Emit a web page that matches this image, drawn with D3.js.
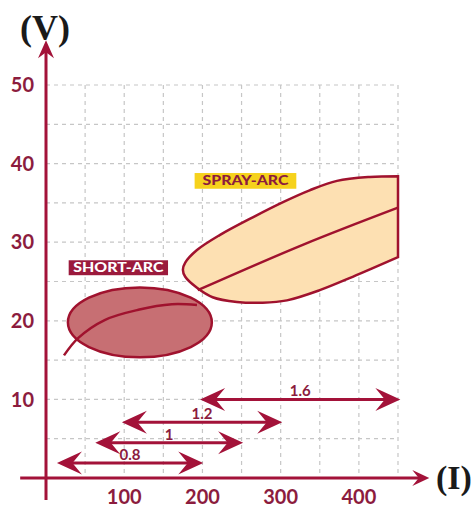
<!DOCTYPE html>
<html>
<head>
<meta charset="utf-8">
<script src="https://cdn.jsdelivr.net/npm/d3@7"></script>
<style>
  html, body { margin: 0; padding: 0; background: #fff; }
  svg { display: block; }
</style>
</head>
<body>
<div id="chart"></div>
<script>
// axis ticks
var xTicks = [100, 200, 300, 400];
var yTicks = [10, 20, 30, 40, 50];
var gridX = [50, 100, 150, 200, 250, 300, 350, 400, 450];
var gridY = [5, 10, 15, 20, 25, 30, 35, 40, 45, 50];

// wire diameters (mm) and their current ranges
var wireSizes = ["0.8", "1", "1.2", "1.6"];
var wireFrom = [14, 63, 97, 197];
var wireTo = [201, 252, 302, 453];
var wireVolt = [1.9, 4.5, 7.1, 10.0];

// short arc zone (ellipse) and its curve
var shortCenter = [120, 19.8];
var shortRadius = [92, 4.45];
var shortCurveI = [23, 41, 75, 118, 161, 193];
var shortCurveV = [15.6, 17.8, 20.1, 21.4, 22.1, 22.0];

// spray arc zone outline and its curve
var sprayI = [450, 414, 372, 337, 303, 265, 222, 193, 178, 175, 178, 193, 213, 244, 277, 308, 350, 392, 450];
var sprayV = [38.4, 38.3, 37.8, 36.6, 35.1, 33.2, 30.9, 29.0, 27.4, 26.5, 25.6, 24.2, 23.0, 22.4, 22.3, 22.6, 23.9, 25.6, 28.1];
var sprayLineI = [194, 329, 450];
var sprayLineV = [23.9, 29.7, 34.4];

var w = 475, h = 507;
var crimson = "#a31239";
var labelColor = "#8c1c3e";

var svg = d3.select("#chart").append("svg")
    .attr("width", w)
    .attr("height", h);

var x = d3.scaleLinear().domain([0, 450]).range([46, 398]);
var y = d3.scaleLinear().domain([0, 50]).range([478, 85]);

// grid
svg.append("g").selectAll("line")
    .data(gridY)
    .enter().append("line")
    .attr("x1", x(0)).attr("x2", x(450))
    .attr("y1", function (d) { return y(d); })
    .attr("y2", function (d) { return y(d); })
    .attr("stroke", "#c6c6c6")
    .attr("stroke-width", 1.2)
    .attr("stroke-dasharray", "4,4");
svg.append("g").selectAll("line")
    .data(gridX)
    .enter().append("line")
    .attr("y1", y(50)).attr("y2", y(0))
    .attr("x1", function (d) { return x(d); })
    .attr("x2", function (d) { return x(d); })
    .attr("stroke", "#c6c6c6")
    .attr("stroke-width", 1.2)
    .attr("stroke-dasharray", "4,4");

var line = d3.line()
    .x(function (d) { return x(d[0]); })
    .y(function (d) { return y(d[1]); })
    .curve(d3.curveCatmullRom.alpha(0.5));

// spray arc zone
var sprayPts = sprayI.map(function (d, i) { return [d, sprayV[i]]; });
svg.append("path")
    .attr("d", line(sprayPts) + "Z")
    .attr("fill", "#fde0b2")
    .attr("stroke", "#a0122e")
    .attr("stroke-width", 2.5);
svg.append("path")
    .attr("d", line(sprayLineI.map(function (d, i) { return [d, sprayLineV[i]]; })))
    .attr("fill", "none")
    .attr("stroke", "#a0122e")
    .attr("stroke-width", 2.5);

// short arc zone
svg.append("ellipse")
    .attr("cx", x(shortCenter[0]))
    .attr("cy", y(shortCenter[1]))
    .attr("rx", x(shortRadius[0]) - x(0))
    .attr("ry", y(0) - y(shortRadius[1]))
    .attr("fill", "#c76f73")
    .attr("stroke", "#a0122e")
    .attr("stroke-width", 2.5);
svg.append("path")
    .attr("d", line(shortCurveI.map(function (d, i) { return [d, shortCurveV[i]]; })))
    .attr("fill", "none")
    .attr("stroke", "#a0122e")
    .attr("stroke-width", 2.5);

// zone labels
var spray = svg.append("g");
spray.append("rect")
    .attr("x", x(190)).attr("y", y(38.8))
    .attr("width", x(320) - x(190)).attr("height", y(36.8) - y(38.8))
    .attr("fill", "#f6d21c");
spray.append("text")
    .attr("x", x(255)).attr("y", y(36.8) - 3.5)
    .attr("text-anchor", "middle")
    .attr("font-family", "Lato, sans-serif")
    .attr("font-weight", 900)
    .attr("font-size", 12.5)
    .attr("textLength", 86)
    .attr("lengthAdjust", "spacingAndGlyphs")
    .attr("fill", "#8c1c3e")
    .text("SPRAY-ARC");

var shortLbl = svg.append("g");
shortLbl.append("rect")
    .attr("x", x(29)).attr("y", y(27.7))
    .attr("width", x(156) - x(29)).attr("height", y(25.8) - y(27.7))
    .attr("fill", "#9b1a3c");
shortLbl.append("text")
    .attr("x", x(92.5)).attr("y", y(25.8) - 3)
    .attr("text-anchor", "middle")
    .attr("font-family", "Lato, sans-serif")
    .attr("font-weight", 900)
    .attr("font-size", 13.5)
    .attr("textLength", 90)
    .attr("lengthAdjust", "spacingAndGlyphs")
    .attr("fill", "#fff")
    .text("SHORT-ARC");

// arrow head: tip at (tx, ty), pointing in direction dir (+1 right, -1 left)
function headH(tx, ty, dir, len, half) {
    var bx = tx - dir * len;
    var nx = tx - dir * len * 0.62;
    return "M" + tx + "," + ty +
        "L" + bx + "," + (ty - half) +
        "L" + nx + "," + ty +
        "L" + bx + "," + (ty + half) + "Z";
}

// wire size ranges
var wires = wireSizes.map(function (s, i) {
    return { size: s, from: wireFrom[i], to: wireTo[i], v: wireVolt[i] };
});
var wg = svg.append("g").selectAll("g")
    .data(wires)
    .enter().append("g");
wg.append("line")
    .attr("x1", function (d) { return x(d.from) + 8; })
    .attr("x2", function (d) { return x(d.to) - 8; })
    .attr("y1", function (d) { return y(d.v); })
    .attr("y2", function (d) { return y(d.v); })
    .attr("stroke", crimson)
    .attr("stroke-width", 3);
wg.append("path")
    .attr("d", function (d) {
        return headH(x(d.from), y(d.v), -1, 25, 11.5) + headH(x(d.to), y(d.v), 1, 25, 11.5);
    })
    .attr("fill", crimson);
wg.append("text")
    .attr("x", function (d) { return (x(d.from) + x(d.to)) / 2; })
    .attr("y", function (d) { return y(d.v) - 3; })
    .attr("text-anchor", "middle")
    .attr("font-family", "Lato, sans-serif")
    .attr("font-weight", "bold")
    .attr("font-size", 15)
    .attr("fill", labelColor)
    .text(function (d) { return d.size; });

// axes
svg.append("line")
    .attr("x1", x(-33)).attr("x2", x(490) - 10)
    .attr("y1", y(0)).attr("y2", y(0))
    .attr("stroke", crimson).attr("stroke-width", 3);
svg.append("path")
    .attr("d", headH(x(490), y(0), 1, 17, 8))
    .attr("fill", crimson);
svg.append("line")
    .attr("x1", x(0)).attr("x2", x(0))
    .attr("y1", y(-2.8)).attr("y2", y(55.7) + 10)
    .attr("stroke", crimson).attr("stroke-width", 3);
var ty = y(55.7), tx = x(0);
svg.append("path")
    .attr("d", "M" + tx + "," + ty + "L" + (tx - 8) + "," + (ty + 18) +
        "L" + tx + "," + (ty + 12) + "L" + (tx + 8) + "," + (ty + 18) + "Z")
    .attr("fill", crimson);

// tick labels
svg.append("g").selectAll("text")
    .data(yTicks)
    .enter().append("text")
    .attr("x", 34)
    .attr("y", function (d) { return y(d); })
    .attr("dy", "0.36em")
    .attr("text-anchor", "end")
    .attr("font-family", "Lato, sans-serif")
    .attr("font-weight", "bold")
    .attr("font-size", 20)
    .attr("fill", labelColor)
    .text(function (d) { return d; });
svg.append("g").selectAll("text")
    .data(xTicks)
    .enter().append("text")
    .attr("x", function (d) { return x(d); })
    .attr("y", 504)
    .attr("text-anchor", "middle")
    .attr("font-family", "Lato, sans-serif")
    .attr("font-weight", "bold")
    .attr("font-size", 20)
    .attr("fill", labelColor)
    .text(function (d) { return d; });

// axis titles
svg.append("text")
    .attr("x", 45).attr("y", 40)
    .attr("text-anchor", "middle")
    .attr("font-family", "Liberation Serif, serif")
    .attr("font-weight", "bold")
    .attr("font-size", 36)
    .attr("fill", "#1a1a1a")
    .text("(V)");
svg.append("text")
    .attr("x", 436).attr("y", 489)
    .attr("font-family", "Liberation Serif, serif")
    .attr("font-weight", "bold")
    .attr("font-size", 34)
    .attr("fill", "#1a1a1a")
    .text("(I)");
</script>
</body>
</html>
